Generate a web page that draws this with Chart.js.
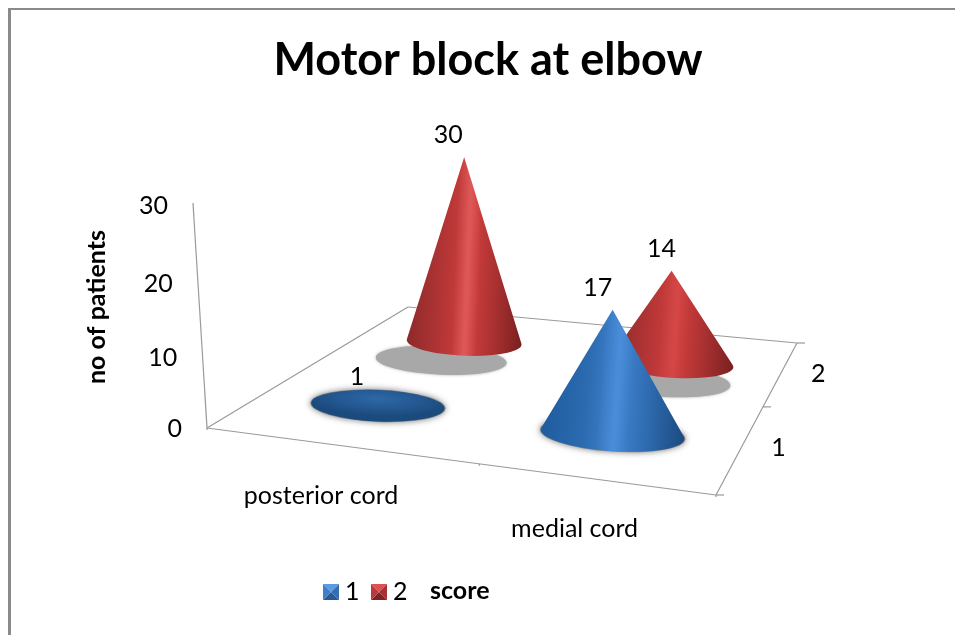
<!DOCTYPE html>
<html>
<head>
<meta charset="utf-8">
<title>Motor block at elbow</title>
<script src="https://cdn.jsdelivr.net/npm/chart.js@4"></script>
<style>
  html, body { margin: 0; background: #fff; }
  #frame { position: absolute; left: 8px; top: 8px; right: 0; bottom: 0; border-left: 3px solid #8a8a8a; border-top: 2px solid #8a8a8a; }
  canvas { position: absolute; left: 0; top: 0; }
</style>
</head>
<body>
<div id="frame"></div>
<canvas id="coneChart" width="955" height="635"></canvas>
<script>
const chartTitle = 'Motor block at elbow';
const valueAxisTitle = 'no of patients';
const legendTitle = 'score';
const categories = ['posterior cord', 'medial cord'];
const seriesNames = ['1', '2'];
const score1Values = [1, 17];
const score2Values = [30, 14];
const valueTicks = [0, 10, 20, 30];

// floor of the 3d box
const floorFrontLeft = { x: 207, y: 428 };
const floorFrontRight = { x: 716, y: 495 };
const floorBackRight = { x: 797, y: 343 };
const floorBackLeft = { x: 408, y: 307 };

const textFont = 'Lato';
const textSize = 25;

const coneStops = [
    [[0, '#1f5c9e'], [0.3, '#2c6bb0'], [0.52, '#4284d2'], [0.72, '#2f6db2'], [1, '#1c4a80']],
    [[0, '#8e2a2a'], [0.3, '#b43535'], [0.52, '#d23f3f'], [0.75, '#aa3131'], [1, '#7a2020']],
];
const discStops = [
    [[0, '#2d68a6'], [0.6, '#235790'], [1, '#1b4a7c']],
    [[0, '#c84040'], [0.6, '#a83030'], [1, '#802424']],
];
const legendFaces = [
    ['#5b9be0', '#3f7fc6', '#356fb0', '#2a5a94'],
    ['#e05050', '#b83a3a', '#a83232', '#7e2424'],
];

function lerp(a, b, t) {
    return { x: a.x + (b.x - a.x) * t, y: a.y + (b.y - a.y) * t };
}

// perspective bunches positions toward the far end of an edge
function eased(t, a) {
    return a * t / (1 + (a - 1) * t);
}

function floorPoint(u, v) {
    const su = eased(u, 1.15);
    const sv = eased(v, 1.38);
    return lerp(lerp(floorFrontLeft, floorFrontRight, su), lerp(floorBackLeft, floorBackRight, su), sv);
}

function scaleDecimal(scale, index) {
    return scale.getDecimalForPixel(scale.getPixelForValue(index));
}

function line(ctx, a, b) {
    ctx.beginPath();
    ctx.moveTo(a.x, a.y);
    ctx.lineTo(b.x, b.y);
    ctx.stroke();
}

function drawAxes(chart) {
    const ctx = chart.ctx;
    const y = chart.scales.y;
    ctx.strokeStyle = '#9a9a9a';
    ctx.lineWidth = 1.2;
    line(ctx, floorFrontLeft, floorFrontRight);
    line(ctx, floorFrontRight, floorBackRight);
    line(ctx, floorBackRight, floorBackLeft);
    line(ctx, floorBackLeft, floorFrontLeft);
    line(ctx, floorFrontLeft, { x: 193, y: y.getPixelForValue(y.max) - 2 });

    [0, 0.5, 1].forEach(t => {
        const p = floorPoint(1, t);
        line(ctx, p, { x: p.x + 8, y: p.y });
        const q = floorPoint(t, 0);
        line(ctx, q, { x: q.x, y: q.y + 2 });
    });
}

function drawAxisText(chart) {
    const ctx = chart.ctx;
    const { x, y, z } = chart.scales;
    ctx.fillStyle = '#000';
    ctx.font = textSize + 'px ' + textFont;
    ctx.textBaseline = 'middle';

    // value labels lean with the slanted wall axis
    ctx.textAlign = 'right';
    valueTicks.forEach(tick => {
        const d = (tick - y.min) / (y.max - y.min);
        const sag = 14 * d * (1 - d);
        const axisX = floorFrontLeft.x - 14 * d;
        ctx.fillText(String(tick), axisX - 25, y.getPixelForValue(tick) + sag + 1);
    });

    ctx.textAlign = 'center';
    categories.forEach((name, i) => {
        const p = floorPoint(scaleDecimal(x, i), 0);
        ctx.fillText(name, p.x - 27, p.y + 49);
    });
    seriesNames.forEach((name, i) => {
        const p = floorPoint(1, scaleDecimal(z, i));
        ctx.fillText(name, p.x + 37, p.y + 1);
    });

    ctx.save();
    ctx.translate(97, 307);
    ctx.rotate(-Math.PI / 2);
    ctx.font = 'bold 25px ' + textFont;
    ctx.fillText(valueAxisTitle, 0, 0);
    ctx.restore();
}

function coneLayout(chart, datasetIndex, index) {
    const { x, y, z } = chart.scales;
    const u = scaleDecimal(x, index);
    const v = scaleDecimal(z, datasetIndex);
    const value = chart.data.datasets[datasetIndex].data[index];
    const floor = floorPoint(u, v);
    const rx = 64.5 * (1 + 0.15 * (u - 0.5)) * (1 - 0.3 * (v - 0.5));
    const unit = 0.906 * (1 + 0.136 * (u - 0.5)) * (1 - 0.21 * (v - 0.5));
    return {
        base: { x: floor.x - 23 + datasetIndex * (4 + 2 * index), y: floor.y },
        rx: rx,
        ry: rx * 0.235,
        tilt: 0.03 + 0.05 * u,
        height: (y.getPixelForValue(0) - y.getPixelForValue(value)) * unit,
        value: value,
        datasetIndex: datasetIndex,
        index: index,
    };
}

function drawShadow(ctx, c) {
    ctx.save();
    if (c.datasetIndex > 0) {
        // far row throws a flat grey shadow in front of the cone
        ctx.fillStyle = '#a8a8a8';
        ctx.shadowColor = 'rgba(120,120,120,0.6)';
        ctx.shadowBlur = 3;
        ctx.beginPath();
        ctx.ellipse(c.base.x - 23 + 12 * c.index, c.base.y + 18, c.rx + 8, c.ry + 1, c.tilt, 0, Math.PI * 2);
        ctx.fill();
    } else {
        ctx.fillStyle = '#8a8a8a';
        ctx.shadowColor = 'rgba(70,70,70,0.7)';
        ctx.shadowBlur = 6;
        ctx.beginPath();
        ctx.ellipse(c.base.x, c.base.y, c.rx + 1, c.ry + 0.5, c.tilt, 0, Math.PI * 2);
        ctx.fill();
    }
    ctx.restore();
}

function drawCone(ctx, c) {
    ctx.save();
    ctx.translate(c.base.x, c.base.y);
    ctx.rotate(c.tilt);
    const apex = { x: -Math.sin(c.tilt) * c.height, y: -Math.cos(c.tilt) * c.height };
    const px = apex.x / c.rx;
    const py = apex.y / c.ry;
    const dist = Math.hypot(px, py);

    if (dist <= 1) {
        // so short the tip stays inside the rim: seen as a disc
        ctx.beginPath();
        ctx.ellipse(0, 0, c.rx, c.ry, 0, 0, Math.PI * 2);
        ctx.clip();
        ctx.translate(apex.x, apex.y);
        ctx.scale(1, c.ry / c.rx);
        const disc = ctx.createRadialGradient(0, 0, 0, 0, 0, c.rx * 1.1);
        discStops[c.datasetIndex].forEach(s => disc.addColorStop(s[0], s[1]));
        ctx.fillStyle = disc;
        ctx.fillRect(-c.rx * 2, -c.rx * 2, c.rx * 4, c.rx * 4);
        ctx.restore();
        return;
    }

    const phi = Math.atan2(py, px);
    const spread = Math.acos(1 / dist);
    ctx.beginPath();
    ctx.moveTo(apex.x, apex.y);
    ctx.ellipse(0, 0, c.rx, c.ry, 0, phi + spread, phi - spread + Math.PI * 2);
    ctx.closePath();

    const body = ctx.createLinearGradient(-c.rx, 0, c.rx, 0);
    coneStops[c.datasetIndex].forEach(s => body.addColorStop(s[0], s[1]));
    ctx.fillStyle = body;
    ctx.fill();

    // soft sheen, stronger on the taller cones
    const glow = Math.max(0, c.height / 184 * 0.42 - 0.12);
    const sheen = ctx.createLinearGradient(-c.rx * 0.22, 0, c.rx * 0.22, 0);
    const tint = c.datasetIndex === 0 ? '120,190,255' : '255,150,150';
    sheen.addColorStop(0, 'rgba(' + tint + ',0)');
    sheen.addColorStop(0.5, 'rgba(' + tint + ',' + glow + ')');
    sheen.addColorStop(1, 'rgba(' + tint + ',0)');
    ctx.fillStyle = sheen;
    ctx.fill();
    ctx.restore();
}

function drawLegend(chart) {
    const ctx = chart.ctx;
    ctx.font = textSize + 'px ' + textFont;
    ctx.textBaseline = 'middle';
    ctx.textAlign = 'left';
    chart.data.datasets.forEach((set, i) => {
        const left = 323 + 48 * i;
        const top = 584;
        const size = 16;
        const mid = { x: left + size / 2, y: top + size / 2 };
        const corners = [[left, top], [left + size, top], [left + size, top + size], [left, top + size]];
        // top, right, bottom, left faces of a small pyramid
        [[0, 1, 0], [1, 2, 2], [2, 3, 3], [3, 0, 1]].forEach(face => {
            ctx.fillStyle = legendFaces[i][face[2]];
            ctx.beginPath();
            ctx.moveTo(corners[face[0]][0], corners[face[0]][1]);
            ctx.lineTo(corners[face[1]][0], corners[face[1]][1]);
            ctx.lineTo(mid.x, mid.y);
            ctx.closePath();
            ctx.fill();
        });
        ctx.fillStyle = '#000';
        ctx.fillText(set.label, left + 22, 592);
    });
    ctx.font = 'bold 25px ' + textFont;
    ctx.fillText(legendTitle, 430, 591);
}

const conePlugin = {
    id: 'cones',
    afterDatasetsDraw(chart) {
        const ctx = chart.ctx;
        ctx.save();
        drawAxes(chart);
        const cones = [];
        chart.data.datasets.forEach((set, d) => {
            set.data.forEach((value, i) => cones.push(coneLayout(chart, d, i)));
        });
        // far row first so near cones overlap it
        cones.sort((a, b) => b.datasetIndex - a.datasetIndex);
        cones.forEach(c => drawShadow(ctx, c));
        cones.forEach(c => drawCone(ctx, c));

        drawAxisText(chart);
        ctx.fillStyle = '#000';
        ctx.font = textSize + 'px ' + textFont;
        ctx.textAlign = 'center';
        ctx.textBaseline = 'middle';
        cones.forEach(c => {
            const dx = -21 + 6 * c.index + 5 * c.datasetIndex;
            ctx.fillText(String(c.value), c.base.x + dx, c.base.y - Math.max(c.height, 6) - 22);
        });
        drawLegend(chart);
        ctx.restore();
    },
};

new Chart(document.getElementById('coneChart'), {
    type: 'line',
    data: {
        labels: categories,
        datasets: [
            { label: seriesNames[0], data: score1Values, showLine: false, pointRadius: 0 },
            { label: seriesNames[1], data: score2Values, showLine: false, pointRadius: 0 },
        ],
    },
    plugins: [conePlugin],
    options: {
        responsive: false,
        animation: false,
        layout: { padding: { left: 21, bottom: 207 } },
        plugins: {
            legend: { display: false },
            tooltip: { enabled: false },
            title: {
                display: true,
                text: chartTitle,
                color: '#000',
                font: { family: textFont, size: 45, weight: 'bold' },
                padding: { top: 33, bottom: 118 },
            },
        },
        scales: {
            x: { type: 'category', offset: true, display: false },
            z: { type: 'category', axis: 'x', position: 'bottom', labels: seriesNames, offset: true, display: false },
            y: { type: 'linear', min: 0, max: 30, display: false },
        },
    },
});
</script>
</body>
</html>
